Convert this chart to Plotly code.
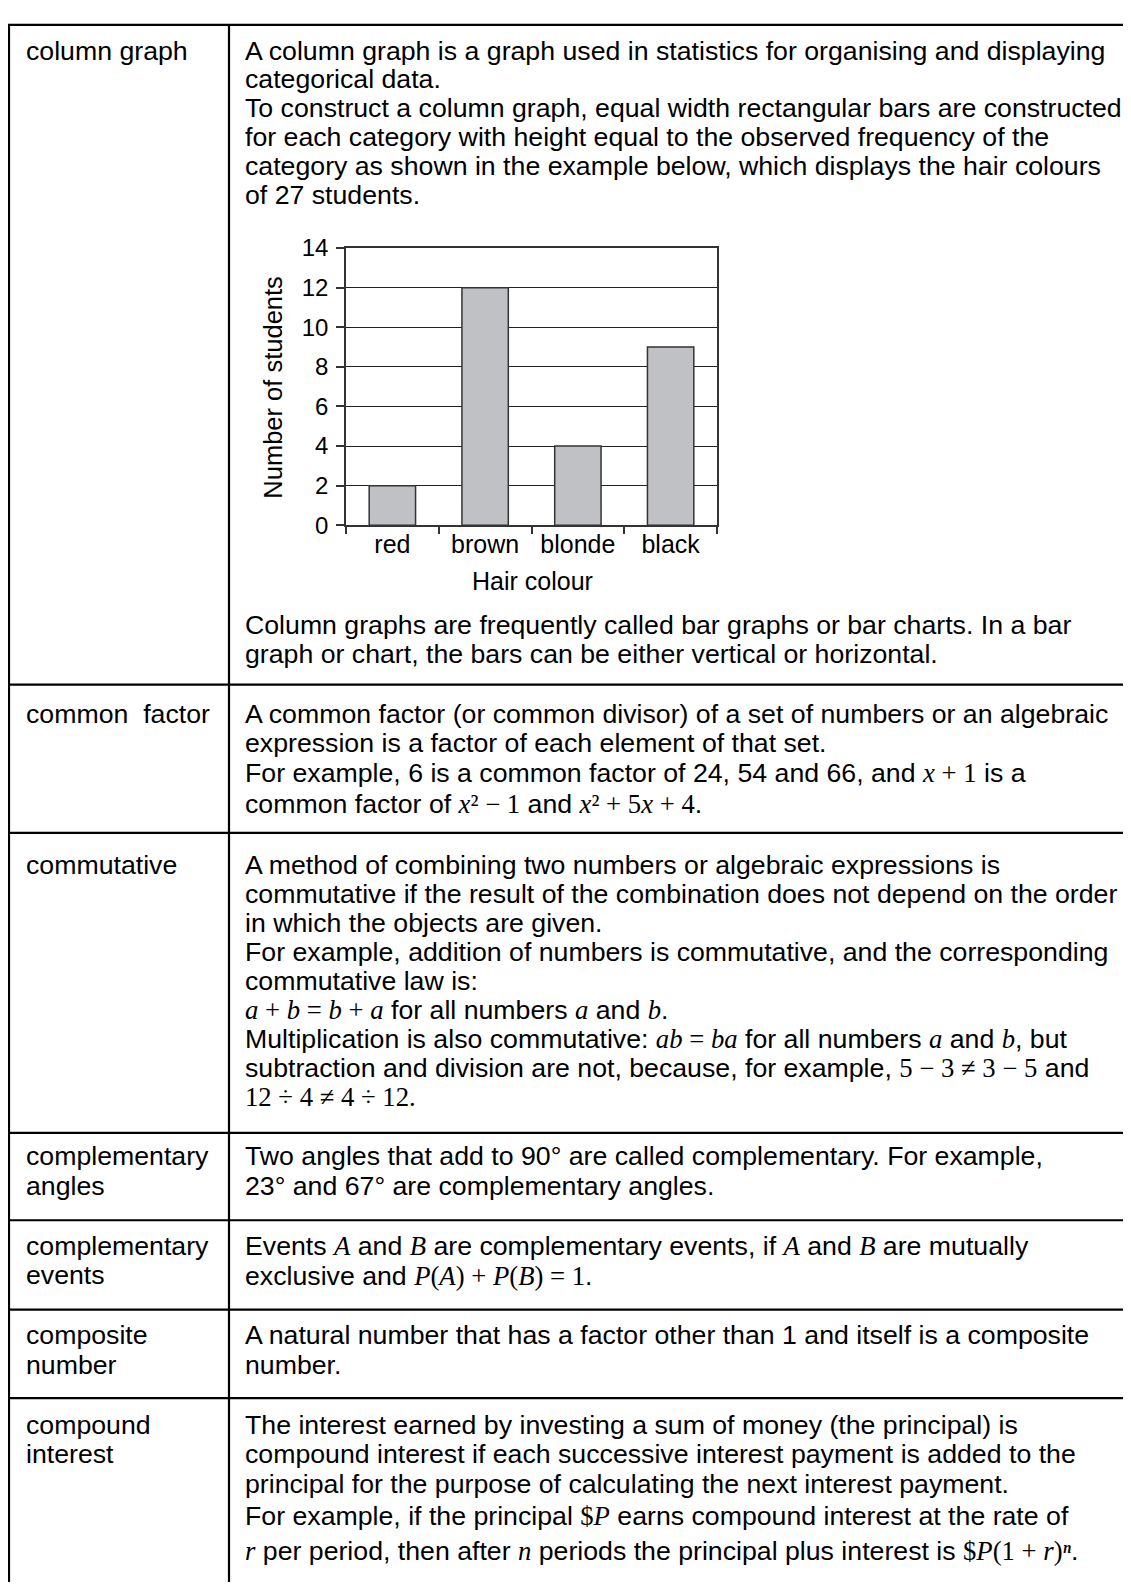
import plotly.graph_objects as go

W, H = 1131, 1587
OFF = 8  # default page body margin

# ---------------- data ----------------
hair_colours = ["red", "brown", "blonde", "black"]
num_students = [2, 12, 4, 9]
y_ticks = [0, 2, 4, 6, 8, 10, 12, 14]

SERIF = "Liberation Serif, Times New Roman, serif"

def M(s):
    return "<span style='font-family:" + SERIF + "'>" + s + "</span>"

A = M("<i>A</i>"); B = M("<i>B</i>"); a = M("<i>a</i>"); b = M("<i>b</i>")

terms = [
    ["column graph"],
    ["common\u00a0 factor"],
    ["commutative"],
    ["complementary", "angles"],
    ["complementary", "events"],
    ["composite", "number"],
    ["compound", "interest"],
]

row1_top_lines = [
    "A column graph is a graph used in statistics for organising and displaying",
    "categorical data.",
    "To construct a column graph, equal width rectangular bars are constructed",
    "for each category with height equal to the observed frequency of the",
    "category as shown in the example below, which displays the hair colours",
    "of 27 students.",
]
row1_bottom_lines = [
    "Column graphs are frequently called bar graphs or bar charts. In a bar",
    "graph or chart, the bars can be either vertical or horizontal.",
]
row2_lines = [
    "A common factor (or common divisor) of a set of numbers or an algebraic",
    "expression is a factor of each element of that set.",
    "For example, 6 is a common factor of 24, 54 and 66, and " + M("<i>x</i> + 1") + " is a",
    "common factor of " + M("<i>x</i>\u00b2 \u2212 1") + " and " + M("<i>x</i>\u00b2 + 5<i>x</i> + 4") + ".",
]
row3_lines = [
    "A method of combining two numbers or algebraic expressions is",
    "commutative if the result of the combination does not depend on the order",
    "in which the objects are given.",
    "For example, addition of numbers is commutative, and the corresponding",
    "commutative law is:",
    M("<i>a</i> + <i>b</i> = <i>b</i> + <i>a</i>") + " for all numbers " + a + " and " + b + ".",
    "Multiplication is also commutative: " + M("<i>ab</i> = <i>ba</i>") + " for all numbers " + a + " and " + b + ", but",
    "subtraction and division are not, because, for example, " + M("5 \u2212 3 \u2260 3 \u2212 5") + " and",
    M("12 \u00f7 4 \u2260 4 \u00f7 12."),
]
row4_lines = [
    "Two angles that add to 90\u00b0 are called complementary. For example,",
    "23\u00b0 and 67\u00b0 are complementary angles.",
]
row5_lines = [
    "Events " + A + " and " + B + " are complementary events, if " + A + " and " + B + " are mutually",
    "exclusive and " + M("<i>P</i>(<i>A</i>) + <i>P</i>(<i>B</i>) = 1") + ".",
]
row6_lines = [
    "A natural number that has a factor other than 1 and itself is a composite",
    "number.",
]
row7_lines = [
    "The interest earned by investing a sum of money (the principal) is",
    "compound interest if each successive interest payment is added to the",
    "principal for the purpose of calculating the next interest payment.",
    "For example, if the principal " + M("$<i>P</i>") + " earns compound interest at the rate of",
    M("<i>r</i>") + " per period, then after " + M("<i>n</i>") + " periods the principal plus interest is "
    + M("$<i>P</i>(1 + <i>r</i>)<i>\u207f</i>") + ".",
]

# ---------------- layout helpers (page pixels -> paper) ----------------
def px(x):
    return (x - OFF) / W

def py(y):
    return 1 - (y - OFF) / H

row_lines_y = [11, 682, 833, 1138, 1227, 1318, 1408]
LEFT_X, DIV_X = 9, 229
TXT_L, TXT_R = 24, 243
BODY = 26.7

line_y = {
    "r1a": [37 + 29.3 * k for k in range(6)],
    "r1b": [621, 651],
    "r2": [712, 741, 772, 804],
    "r3": [866 + 29.5 * k for k in range(9)],
    "r4": [1162, 1192],
    "r5": [1253, 1284],
    "r6": [1344, 1374],
    "r7": [1435, 1465, 1495, 1528, 1563],
}

fig = go.Figure()
fig.add_trace(go.Bar(
    x=hair_colours, y=num_students, width=0.5,
    marker=dict(color="#c0c1c5", line=dict(color="#333333", width=1.5)),
    showlegend=False, hoverinfo="skip",
))

chart_x0, chart_x1 = 346, 717
chart_ytop, chart_ybot = 238, 520

fig.update_layout(
    width=W, height=H,
    margin=dict(l=0, r=0, t=0, b=0),
    paper_bgcolor="white", plot_bgcolor="white",
    font=dict(family="Liberation Sans, Arial, sans-serif", color="black"),
    xaxis=dict(
        domain=[px(chart_x0), px(chart_x1)],
        range=[-0.5, 3.5],
        showline=True, mirror=True, linecolor="#333333", linewidth=1.5,
        ticks="outside", tickson="boundaries", ticklen=7, tickcolor="#333333", tickwidth=1.5,
        showgrid=False, zeroline=False,
        tickfont=dict(size=25, color="black"),
        ticklabelstandoff=-4,
    ),
    yaxis=dict(
        domain=[py(chart_ybot), py(chart_ytop)],
        range=[0, 14], tickvals=y_ticks,
        showline=True, mirror=True, linecolor="#333333", linewidth=1.5,
        ticks="outside", ticklen=8, tickcolor="#333333", tickwidth=1.5,
        showgrid=True, gridcolor="#222222", gridwidth=1.3, zeroline=False,
        tickfont=dict(size=24, color="black"),
        ticklabelstandoff=3,
    ),
)

ann = []
def text(x, y, s, size=BODY):
    ann.append(dict(x=px(x), y=py(y), xref="paper", yref="paper", text=s, showarrow=False,
                    xanchor="left", yanchor="middle",
                    font=dict(size=size, color="black", family="Liberation Sans, Arial, sans-serif")))

# axis titles
ann.append(dict(x=px(273), y=py(380), xref="paper", yref="paper", text="Number of students",
                textangle=-90, showarrow=False, xanchor="center", yanchor="middle",
                font=dict(size=25.5, color="black", family="Liberation Sans, Arial, sans-serif")))
ann.append(dict(x=px(532), y=py(577), xref="paper", yref="paper", text="Hair colour",
                showarrow=False, xanchor="center", yanchor="middle",
                font=dict(size=25, color="black", family="Liberation Sans, Arial, sans-serif")))

# left-column terms
first_line = [line_y["r1a"][0], line_y["r2"][0], line_y["r3"][0], line_y["r4"][0],
              line_y["r5"][0], line_y["r6"][0], line_y["r7"][0]]
for t_lines, y0 in zip(terms, first_line):
    for k, s in enumerate(t_lines):
        text(TXT_L, y0 + 30 * k, s)

for key, lines in [("r1a", row1_top_lines), ("r1b", row1_bottom_lines), ("r2", row2_lines),
                   ("r3", row3_lines), ("r4", row4_lines), ("r5", row5_lines),
                   ("r6", row6_lines), ("r7", row7_lines)]:
    for yy, s in zip(line_y[key], lines):
        text(TXT_R, yy, s)

fig.update_layout(annotations=ann)

# table borders
shapes = []
for yy in row_lines_y:
    shapes.append(dict(type="line", xref="paper", yref="paper", x0=px(LEFT_X - 1), x1=1.0,
                       y0=py(yy), y1=py(yy), line=dict(color="black", width=2.2)))
for xx in [LEFT_X, DIV_X]:
    shapes.append(dict(type="line", xref="paper", yref="paper", x0=px(xx), x1=px(xx),
                       y0=py(row_lines_y[0]), y1=0, line=dict(color="black", width=2.2)))
fig.update_layout(shapes=shapes)

fig.write_html("out.html")
